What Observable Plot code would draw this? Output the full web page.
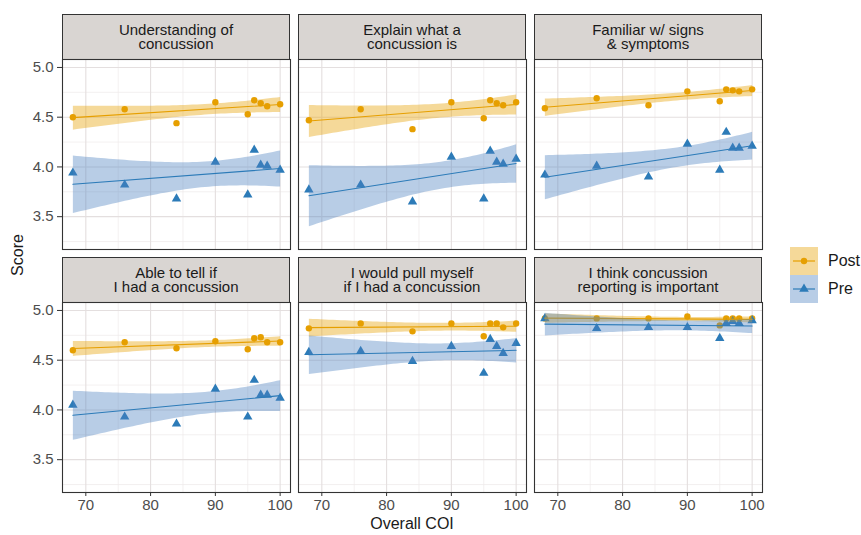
<!DOCTYPE html>
<html><head><meta charset="utf-8">
<script src="https://cdn.jsdelivr.net/npm/d3@7"></script>
<script src="https://cdn.jsdelivr.net/npm/@observablehq/plot@0.6"></script>
<style>
body{margin:0;background:#fff;font-family:"Liberation Sans",Arial,sans-serif;}
#chart{position:relative;width:861px;height:535px;overflow:hidden;background:#fff;}
.strip{position:absolute;box-sizing:border-box;border:1px solid #333;background:#D9D5D2;color:#1A1A1A;font-size:15px;line-height:14.5px;text-align:center;display:flex;align-items:center;justify-content:center;white-space:pre;}
.panel{position:absolute;}
.lab{position:absolute;color:#1A1A1A;font-size:16px;line-height:16px;white-space:nowrap;}
.leg{position:absolute;font-size:16px;color:#1A1A1A;}
</style></head><body><div id="chart"></div>
<script>
// ---- data ----
const coi = [68, 76, 84, 90, 95, 96, 97, 98, 100];
const itemLabels = [
  "Understanding of\nconcussion",
  "Explain what a\nconcussion is",
  "Familiar w/ signs\n& symptoms",
  "Able to tell if\nI had a concussion",
  "I would pull myself\nif I had a concussion",
  "I think concussion\nreporting is important"
];
const seriesNames = ["Post", "Pre"];
const postUnderstanding = [4.50, 4.58, 4.44, 4.65, 4.53, 4.67, 4.64, 4.61, 4.63];
const preUnderstanding  = [3.94, 3.82, 3.68, 4.05, 3.72, 4.17, 4.02, 4.01, 3.97];
const postExplain = [4.47, 4.58, 4.38, 4.65, 4.49, 4.67, 4.64, 4.62, 4.65];
const preExplain  = [3.77, 3.82, 3.65, 4.10, 3.68, 4.16, 4.05, 4.03, 4.08];
const postFamiliar = [4.59, 4.69, 4.62, 4.76, 4.66, 4.78, 4.77, 4.76, 4.78];
const preFamiliar  = [3.92, 4.01, 3.90, 4.23, 3.97, 4.35, 4.19, 4.19, 4.21];
const postAbleToTell = [4.60, 4.68, 4.62, 4.69, 4.61, 4.72, 4.73, 4.68, 4.68];
const preAbleToTell  = [4.05, 3.93, 3.86, 4.21, 3.93, 4.30, 4.15, 4.15, 4.12];
const postPullMyself = [4.82, 4.87, 4.79, 4.87, 4.74, 4.87, 4.87, 4.83, 4.87];
const prePullMyself  = [4.58, 4.59, 4.49, 4.64, 4.37, 4.71, 4.64, 4.57, 4.67];
const postReporting = [4.92, 4.92, 4.92, 4.94, 4.85, 4.92, 4.92, 4.92, 4.92];
const preReporting  = [4.92, 4.82, 4.83, 4.83, 4.72, 4.87, 4.89, 4.87, 4.90];
const postSeries = [postUnderstanding, postExplain, postFamiliar, postAbleToTell, postPullMyself, postReporting];
const preSeries  = [preUnderstanding, preExplain, preFamiliar, preAbleToTell, prePullMyself, preReporting];
const xMajor = [70, 80, 90, 100];
const xMinor = [75, 85, 95];
const yMajor = [3.5, 4.0, 4.5, 5.0];
const yMinor = [3.25, 3.75, 4.25, 4.75];

// ---- style ----
const lineColor = {Post: "#E69F00", Pre: "#2C7BB8"};
const bandColor = {Post: "#E69F00", Pre: "#4D82C0"};
const font = '"Liberation Sans", Arial, sans-serif';

const chart = document.getElementById("chart");
const colX = [62, 298, 534];
const stripY = [14, 257];
const plotY = [59, 302];
const W = 228, H = 190;

itemLabels.forEach((label, i) => {
  const r = Math.floor(i / 3), c = i % 3;
  const strip = document.createElement("div");
  strip.className = "strip";
  strip.style.left = colX[c] + "px";
  strip.style.top = stripY[r] + "px";
  strip.style.width = W + "px";
  strip.style.height = (plotY[r] - stripY[r] + 1) + "px";
  strip.textContent = label;
  chart.appendChild(strip);

  const post = coi.map((x, k) => ({x, y: postSeries[i][k], s: "Post"}));
  const pre = coi.map((x, k) => ({x, y: preSeries[i][k], s: "Pre"}));
  const grid = {strokeOpacity: 1};
  const p = Plot.plot({
    width: W, height: H, margin: 0,
    x: {domain: [66.4, 101.6], axis: null},
    y: {domain: [3.17, 5.08], axis: null},
    style: {background: "transparent", overflow: "visible", fontFamily: font, fontSize: "15px"},
    marks: [
      Plot.gridX(xMinor, {...grid, stroke: "#EEEAEA", strokeWidth: 0.7}),
      Plot.gridY(yMinor, {...grid, stroke: "#EEEAEA", strokeWidth: 0.7}),
      Plot.gridX(xMajor, {...grid, stroke: "#E4DFDF", strokeWidth: 1.1}),
      Plot.gridY(yMajor, {...grid, stroke: "#E4DFDF", strokeWidth: 1.1}),
      Plot.dot(post, {x: "x", y: "y", fill: lineColor.Post, r: 3.2, symbol: "circle"}),
      Plot.dot(pre, {x: "x", y: "y", fill: lineColor.Pre, r: 3.5, symbol: "triangle"}),
      Plot.linearRegressionY(post, {x: "x", y: "y", stroke: lineColor.Post, fill: bandColor.Post, fillOpacity: 0.4, strokeWidth: 1.1, ci: 0.95}),
      Plot.linearRegressionY(pre, {x: "x", y: "y", stroke: lineColor.Pre, fill: bandColor.Pre, fillOpacity: 0.4, strokeWidth: 1.1, ci: 0.95}),
      c === 0 ? Plot.axisY(yMajor, {label: null, tickSize: 5, tickPadding: 4, tickFormat: d => d.toFixed(1), fontSize: 15, color: "#4D4D4D", stroke: "#333"}) : null,
      r === 1 ? Plot.axisX(xMajor, {label: null, tickSize: 4, tickPadding: 3, fontSize: 15, color: "#4D4D4D", stroke: "#333"}) : null,
      Plot.frame({stroke: "#333", strokeWidth: 1.1})
    ]
  });
  p.classList.add("panel");
  p.style.left = colX[c] + "px";
  p.style.top = plotY[r] + "px";
  chart.appendChild(p);
});

// axis titles
const xl = document.createElement("div");
xl.className = "lab";
xl.textContent = "Overall COI";
xl.style.left = "412px"; xl.style.top = "524px";
xl.style.transform = "translate(-50%,-50%)";
chart.appendChild(xl);
const yl = document.createElement("div");
yl.className = "lab";
yl.textContent = "Score";
yl.style.left = "18px"; yl.style.top = "255px";
yl.style.transform = "translate(-50%,-50%) rotate(-90deg)";
chart.appendChild(yl);

// legend
const ns = "http://www.w3.org/2000/svg";
seriesNames.forEach((name, k) => {
  const svg = document.createElementNS(ns, "svg");
  svg.setAttribute("width", 28); svg.setAttribute("height", 28);
  svg.style.position = "absolute";
  svg.style.left = "790px"; svg.style.top = (247 + 28 * k) + "px";
  svg.innerHTML =
    `<rect x="0" y="0" width="28" height="28" fill="${bandColor[name]}" fill-opacity="0.4"/>` +
    `<line x1="3" x2="25" y1="14" y2="14" stroke="${lineColor[name]}" stroke-width="1.2"/>` +
    (name === "Post"
      ? `<circle cx="14" cy="14" r="3.2" fill="${lineColor[name]}"/>`
      : `<path d="${d3.symbol(d3.symbolTriangle, 40)()}" transform="translate(14,14)" fill="${lineColor[name]}"/>`);
  chart.appendChild(svg);
  const t = document.createElement("div");
  t.className = "leg";
  t.textContent = name;
  t.style.left = "828px"; t.style.top = (261 + 28 * k) + "px";
  t.style.transform = "translateY(-50%)";
  chart.appendChild(t);
});
</script>
</body></html>
